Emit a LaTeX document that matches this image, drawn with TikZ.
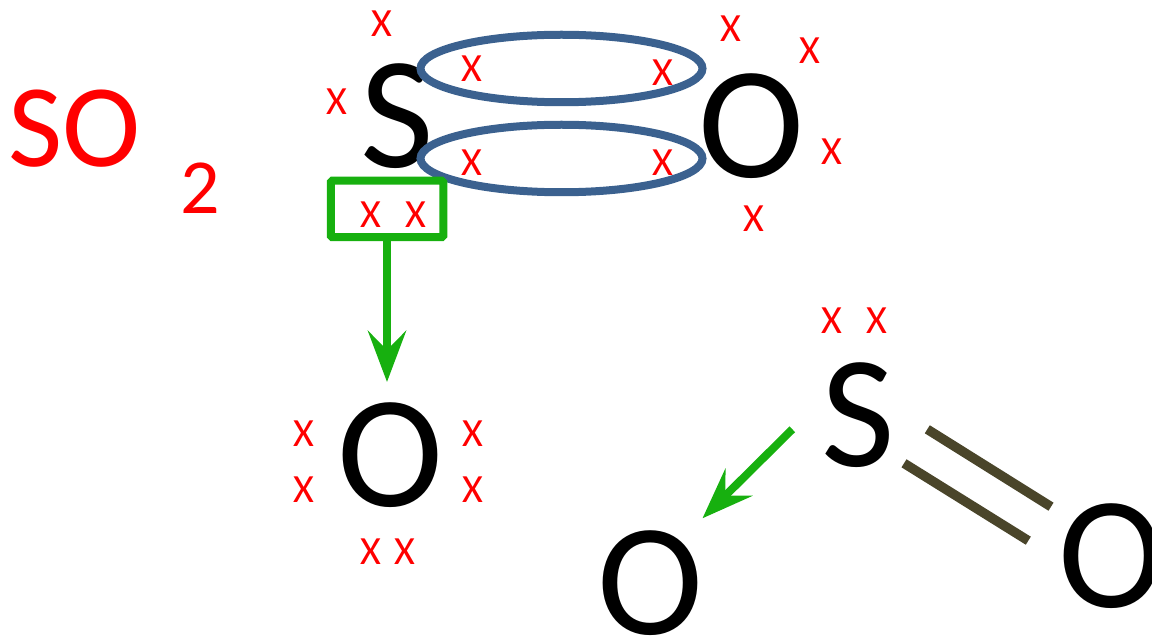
\documentclass[tikz,border=0pt]{standalone}
\usepackage{fontspec}
\setmainfont{Carlito}
\usetikzlibrary{arrows.meta}
\definecolor{ringblue}{HTML}{3B618F}
\definecolor{arrowgreen}{HTML}{17B00F}
\definecolor{bondbrown}{HTML}{4A452A}
\tikzset{
  x=1pt,y=-1pt,
  atom/.style={anchor=base,inner sep=0pt,font=\fontsize{160}{160}\selectfont},
  elec/.style={anchor=center,inner sep=0pt,text=red,font=\fontsize{40}{40}\selectfont},
  bondring/.style={draw=ringblue,line width=8pt},
  greenline/.style={draw=arrowgreen,line width=8pt},
  bondline/.style={draw=bondbrown,line width=9.5pt},
  gtip/.style={-{Stealth[length=51pt,width=38pt,inset=19pt,fill=arrowgreen]}}
}
\begin{document}
\begin{tikzpicture}
\useasboundingbox (0,0) rectangle (1152,636);
\node[anchor=base,inner sep=0pt,text=red,font=\fontsize{118}{118}\selectfont] (so) at (74.5,167) {SO};
\node[anchor=base,inner sep=0pt,text=red,font=\fontsize{78}{78}\selectfont] (two) at (200.5,214) {2};
\node[atom] (S1) at (397,168) {S};
\node[atom] (O1) at (751,178) {O};
\node[atom] (O2) at (390,506) {O};
\node[atom] (S2) at (858,466) {S};
\node[atom] (O3) at (650,634) {O};
\node[atom] (O4) at (1111,607) {O};
\draw[bondring] (561.5,68.5) ellipse (141 and 33.75);
\draw[bondring] (561.5,158.5) ellipse (141 and 33.75);
\node[greenline,rounded corners=1.5pt,minimum width=112.5pt,minimum height=56.5pt,inner sep=0pt,outer sep=0pt] (box) at (387,209) {};
\coordinate (a1) at (387,382);
\draw[greenline,gtip] (box.south) -- (a1);
\coordinate (a2s) at (792.3,429.3);
\coordinate (a2e) at (702.5,518.3);
\draw[greenline,gtip] (a2s) -- (a2e);
\coordinate (b1s) at (927.3,429.3);
\coordinate (b1e) at (1051,506.7);
\coordinate (b2s) at (904,463.3);
\coordinate (b2e) at (1028.3,540.7);
\draw[bondline] (b1s) -- (b1e);
\draw[bondline] (b2s) -- (b2e);
\foreach \n/\x/\y in {e1/381.7/24,e2/337/102,e3/471.7/69,e4/662.7/73,e5/471.7/163,e6/662.7/163,e7/730.5/29,e8/809.5/51,e9/832/152,e10/753.5/219,e11/370.7/215,e12/415.7/215,e13/303.5/434,e14/303.5/490,e15/472.5/434,e16/472.5/490,e17/370.5/552,e18/404.5/552,e19/831.7/320.7,e20/876.7/320.7}
  \node[elec] (\n) at (\x,\y) {X};
\end{tikzpicture}
\end{document}
